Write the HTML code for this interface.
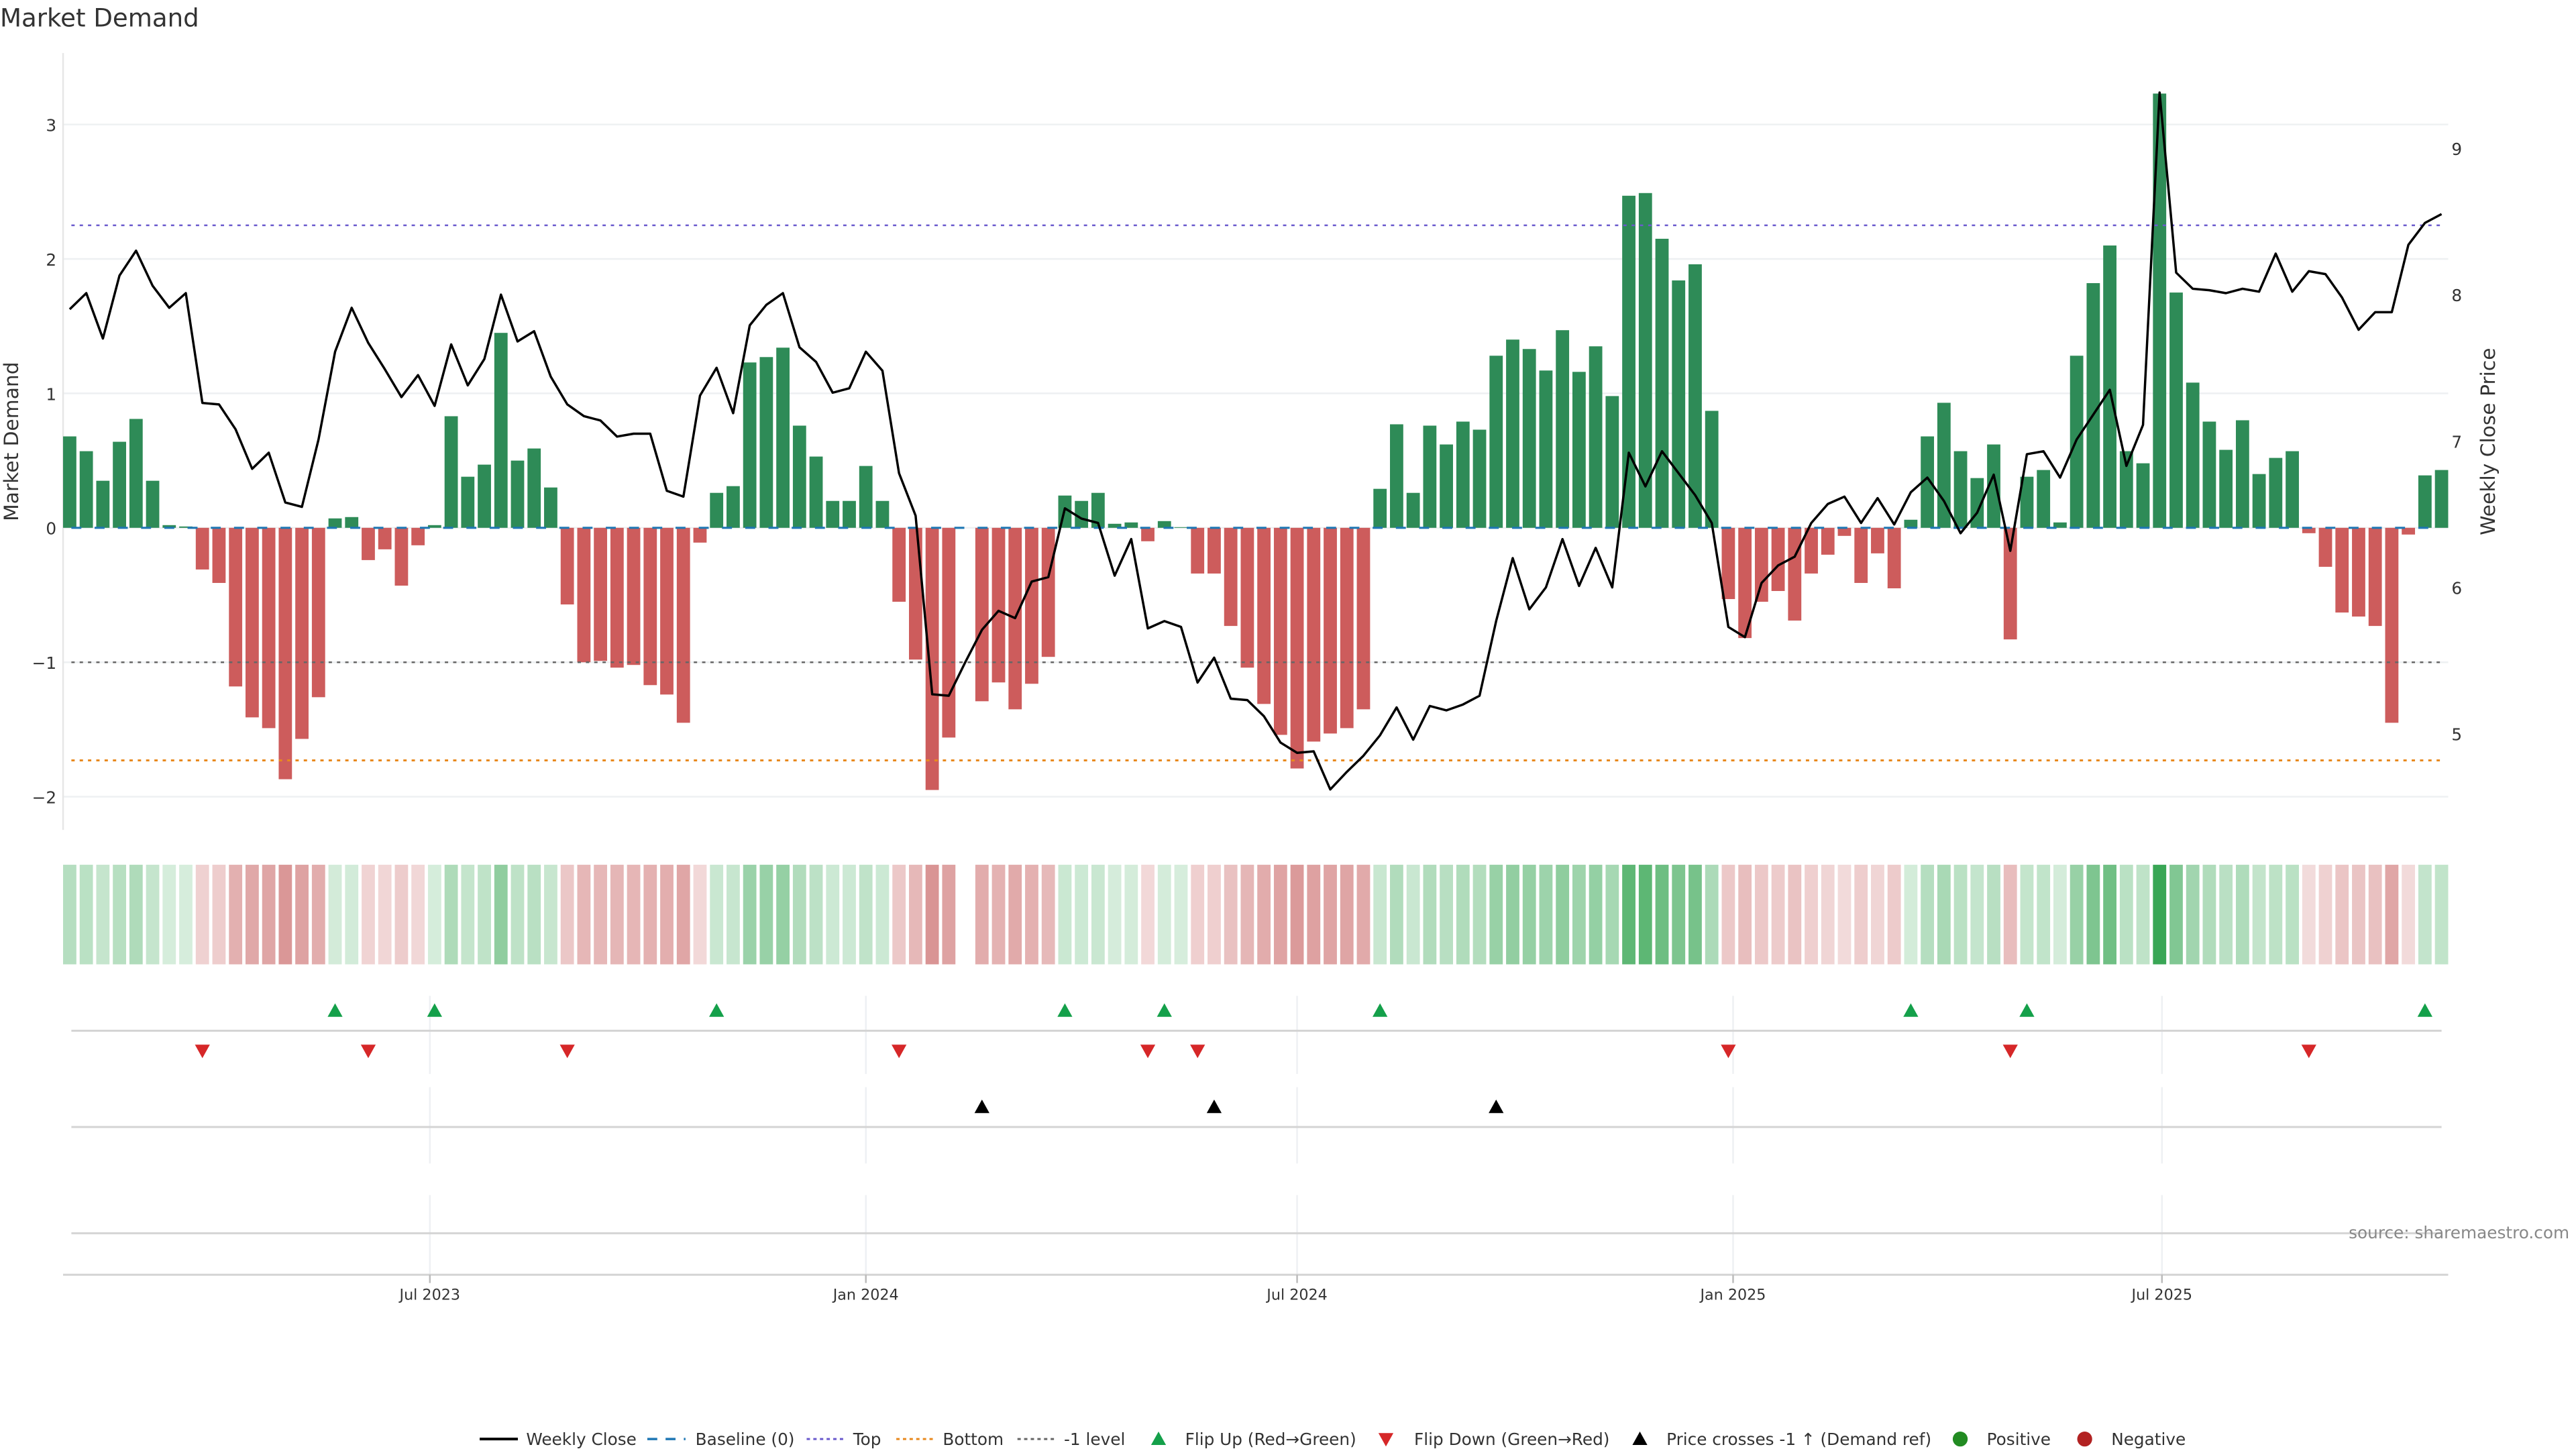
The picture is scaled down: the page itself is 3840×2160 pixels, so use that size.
<!DOCTYPE html>
<html><head><meta charset="utf-8"><style>
html,body{margin:0;padding:0;background:#fff;width:3840px;height:2160px;overflow:hidden}
svg{display:block}
text{font-family:"DejaVu Sans","Liberation Sans",sans-serif}
</style></head><body>
<svg id="chart" width="3840" height="2160" viewBox="0 0 1552 873" preserveAspectRatio="none" xmlns="http://www.w3.org/2000/svg">
<text x="0" y="16" font-size="15" fill="#333">Market Demand</text>
<g id="g-main"></g>
<g id="g-heat"></g>
<g id="g-sub"></g>
<g id="g-xaxis"></g>
<text x="1548" y="746" font-size="10" fill="#888" text-anchor="end">source: sharemaestro.com</text>
<g id="g-legend"></g>
</svg>
<script>
const demand = [0.68,0.57,0.35,0.64,0.81,0.35,0.02,0.01,-0.31,-0.41,-1.18,-1.41,-1.49,-1.87,-1.57,-1.26,0.07,0.08,-0.24,-0.16,-0.43,-0.13,0.02,0.83,0.38,0.47,1.45,0.50,0.59,0.30,-0.57,-1.0,-0.99,-1.04,-1.02,-1.17,-1.24,-1.45,-0.11,0.26,0.31,1.23,1.27,1.34,0.76,0.53,0.20,0.20,0.46,0.20,-0.55,-0.98,-1.95,-1.56,null,-1.29,-1.15,-1.35,-1.16,-0.96,0.24,0.20,0.26,0.03,0.04,-0.10,0.05,0.005,-0.34,-0.34,-0.73,-1.04,-1.31,-1.54,-1.79,-1.59,-1.53,-1.49,-1.35,0.29,0.77,0.26,0.76,0.62,0.79,0.73,1.28,1.40,1.33,1.17,1.47,1.16,1.35,0.98,2.47,2.49,2.15,1.84,1.96,0.87,-0.53,-0.82,-0.55,-0.47,-0.69,-0.34,-0.20,-0.06,-0.41,-0.19,-0.45,0.06,0.68,0.93,0.57,0.37,0.62,-0.83,0.38,0.43,0.04,1.28,1.82,2.10,0.57,0.48,3.23,1.75,1.08,0.79,0.58,0.80,0.40,0.52,0.57,-0.04,-0.29,-0.63,-0.66,-0.73,-1.45,-0.05,0.39,0.43];
const price = [7.90,8.01,7.70,8.13,8.30,8.06,7.91,8.01,7.26,7.25,7.08,6.81,6.92,6.58,6.55,7.01,7.61,7.91,7.67,7.49,7.30,7.45,7.24,7.66,7.38,7.56,8.00,7.68,7.75,7.44,7.25,7.17,7.14,7.03,7.05,7.05,6.66,6.62,7.31,7.50,7.19,7.79,7.93,8.01,7.64,7.54,7.33,7.36,7.61,7.48,6.78,6.49,5.27,5.26,5.49,5.71,5.84,5.79,6.04,6.07,6.54,6.47,6.44,6.08,6.33,5.72,5.77,5.73,5.35,5.52,5.24,5.23,5.12,4.94,4.87,4.88,4.62,4.74,4.85,4.99,5.18,4.96,5.19,5.16,5.20,5.26,5.77,6.20,5.85,6.00,6.33,6.01,6.27,6.00,6.92,6.69,6.93,6.78,6.63,6.44,5.73,5.66,6.03,6.15,6.21,6.44,6.57,6.62,6.44,6.61,6.43,6.65,6.75,6.59,6.37,6.51,6.77,6.25,6.91,6.93,6.75,7.01,7.18,7.35,6.83,7.11,9.38,8.15,8.04,8.03,8.01,8.04,8.02,8.28,8.02,8.16,8.14,7.98,7.76,7.88,7.88,8.34,8.49,8.55];
const priceCrossIdx = [55,69,86];
const demandTicks = [-2,-1,0,1,2,3];
const priceTicks = [5,6,7,8,9];
const xTickLabels = ["Jul 2023","Jan 2024","Jul 2024","Jan 2025","Jul 2025"];
const xTickDates = ["2023-07-01","2024-01-01","2024-07-01","2025-01-01","2025-07-01"];
const refTop = 2.25, refBottom = -1.73, refMinus1 = -1;
const startDate = "2023-01-30";

const NS="http://www.w3.org/2000/svg";
const X0=42, DX=9.993, PL=38, PR=1475;
const xi = i => X0 + i*DX;
const xd = s => X0 + (Date.parse(s)-Date.parse(startDate))/(7*86400000)*DX;
const yD = v => 318 - v*81;
const yP = p => 177.5 - (p-8)*88.2;
function mk(tag, attrs, parent){const e=document.createElementNS(NS,tag);for(const k in attrs)e.setAttribute(k,attrs[k]);parent.appendChild(e);return e;}
const gMain=document.getElementById('g-main'), gHeat=document.getElementById('g-heat'), gSub=document.getElementById('g-sub'), gX=document.getElementById('g-xaxis'), gL=document.getElementById('g-legend');

// grid + y ticks
demandTicks.forEach(t=>{
  const y=yD(t);
  let l=mk('line',{x1:PL,x2:PR,y1:y,y2:y,stroke:'#eef0f2','stroke-width':1},gMain);
  
  
  let tx=mk('text',{x:34,y:y+4,'font-size':10,fill:'#333','text-anchor':'end'},gMain);
  tx.textContent=(t<0?'\u2212'+Math.abs(t):t);
  
  
});
priceTicks.forEach(t=>{
  let tx=mk('text',{x:1477,y:yP(t)+4,'font-size':10,fill:'#333'},gMain);
  tx.textContent=t;
  
  
});
let ax=mk('line',{x1:PL,x2:PL,y1:32,y2:500,stroke:'#e6e6e6','stroke-width':1},gMain);


let yt=mk('text',{x:11,y:266,'font-size':12,fill:'#333','text-anchor':'middle',transform:'rotate(-90 11 266)'},gMain);
yt.textContent='Market Demand';


let yt2=mk('text',{x:1503,y:266,'font-size':12,fill:'#333','text-anchor':'middle',transform:'rotate(-90 1503 266)'},gMain);
yt2.textContent='Weekly Close Price';



// bars
demand.forEach((v,i)=>{
  if(v===null)return;
  const y0=yD(0), y1=yD(v);
  let r=mk('rect',{x:xi(i)-4,y:Math.min(y0,y1),width:8,height:Math.max(Math.abs(y1-y0),0.3),fill:v>=0?'#2e8b57':'#cd5c5c'},gMain);
  
  
});
// reference lines
[[0,'#1f77b4','6 8',1.3,'baseline-line'],[refTop,'#6a5acd','2 3',1,'top-line'],[refBottom,'#e8891e','2 3',1.2,'bottom-line'],[refMinus1,'#666','2 3',1,'minus1-level-line']].forEach(a=>{
  let l=mk('line',{x1:43,x2:1471,y1:yD(a[0]),y2:yD(a[0]),stroke:a[1],'stroke-dasharray':a[2],'stroke-width':a[3]},gMain);
  
  
});
// price line
let pl=mk('polyline',{points:price.map((p,i)=>xi(i).toFixed(2)+','+yP(p).toFixed(2)).join(' '),fill:'none',stroke:'#000','stroke-width':1.4,'stroke-linejoin':'round'},gMain);



// heat strip
function mix(a,b,t){return 'rgb('+a.map((c,k)=>Math.round(c+(b[k]-c)*t)).join(',')+')';}
demand.forEach((v,i)=>{
  if(v===null)return;
  const t=Math.min(Math.abs(v)/3.25,1);
  const col=v>=0?mix([214,237,220],[56,166,84],t):mix([243,220,220],[200,100,100],t);
  let r=mk('rect',{x:xi(i)-4,y:521,width:8,height:60,fill:col},gHeat);
  
  
});

// sub panels
xTickDates.forEach(d=>{
  const x=xd(d);
  [[600,647],[655,701],[720,768]].forEach(s=>{
    let l=mk('line',{x1:x,x2:x,y1:s[0],y2:s[1],stroke:'#eef0f3','stroke-width':1},gSub);
    
    
  });
});
[621,679,743].forEach(y=>{
  let l=mk('line',{x1:43,x2:1471,y1:y,y2:y,stroke:'#d4d4d4','stroke-width':1.2},gSub);
  
  
});
function tri(x,y,up,col,name){
  const s=4.5;
  const pts=up?[[x,y-s],[x-s,y+s*0.8],[x+s,y+s*0.8]]:[[x,y+s],[x-s,y-s*0.8],[x+s,y-s*0.8]];
  let p=mk('polygon',{points:pts.map(q=>q.join(',')).join(' '),fill:col},gSub);
  
  
}
let prev=null;
demand.forEach((v,i)=>{
  if(v===null)return;
  if(prev!==null){
    if(prev<0&&v>=0)tri(xi(i),609,true,'#14a04a','flip-up-marker');
    if(prev>=0&&v<0)tri(xi(i),633,false,'#d62728','flip-down-marker');
  }
  prev=v;
});
priceCrossIdx.forEach(i=>tri(xi(i),667,true,'#000','price-cross-marker'));

// x axis
let xl=mk('line',{x1:PL,x2:PR,y1:768,y2:768,stroke:'#d4d4d4','stroke-width':1.2},gX);


xTickDates.forEach((d,k)=>{
  const x=xd(d);
  let t=mk('line',{x1:x,x2:x,y1:768,y2:773,stroke:'#bbb','stroke-width':1},gX);
  
  
  let tx=mk('text',{x:x,y:783,'font-size':9,fill:'#333','text-anchor':'middle'},gX);
  tx.textContent=xTickLabels[k];
  
  
});

// legend
const LY=867;
function ltext(x,s){let t=mk('text',{x:x,y:LY+3.5,'font-size':10,fill:'#333'},gL);t.textContent=s;}
function lline(x,col,dash,w){let l=mk('line',{x1:x,x2:x+23,y1:LY,y2:LY,stroke:col,'stroke-width':w,'stroke-dasharray':dash},gL);}
lline(289,'#000','none',1.6);ltext(317,'Weekly Close');
lline(390,'#1f77b4','6 5',1.4);ltext(419,'Baseline (0)');
lline(486,'#6a5acd','2 2',1.2);ltext(514,'Top');
lline(540,'#e8891e','2 2',1.2);ltext(568,'Bottom');
lline(613,'#666','2 2',1.2);ltext(641,'-1 level');
function ltri(x,up,col){const s=4.5,y=LY;const pts=up?[[x,y-s],[x-s,y+s*0.8],[x+s,y+s*0.8]]:[[x,y+s],[x-s,y-s*0.8],[x+s,y-s*0.8]];let p=mk('polygon',{points:pts.map(q=>q.join(',')).join(' '),fill:col},gL);}
ltri(698,true,'#14a04a');ltext(714,'Flip Up (Red\u2192Green)');
ltri(835,false,'#d62728');ltext(852,'Flip Down (Green\u2192Red)');
ltri(988,true,'#000');ltext(1004,'Price crosses -1 \u2191 (Demand ref)');
let c1=mk('circle',{cx:1181,cy:LY,r:4.5,fill:'#228b22'},gL);ltext(1197,'Positive');
let c2=mk('circle',{cx:1256,cy:LY,r:4.5,fill:'#b22222'},gL);ltext(1272,'Negative');
</script>
</body></html>
